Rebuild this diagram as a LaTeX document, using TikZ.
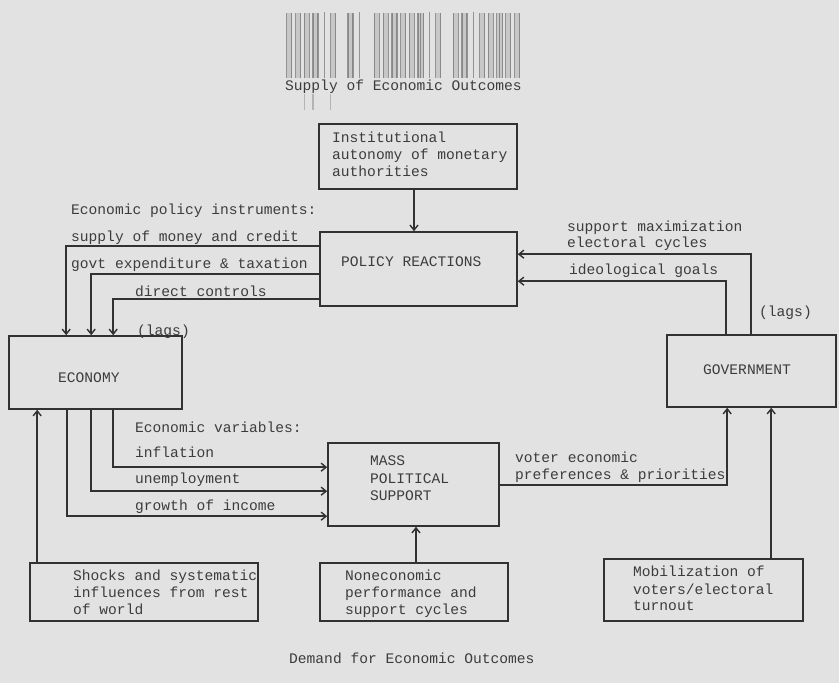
\documentclass[tikz,border=0pt]{standalone}
\usepackage{fontspec}
\setmonofont{Liberation Mono}
\usetikzlibrary{arrows.meta,calc}
\definecolor{bgc}{RGB}{226,226,226}
\definecolor{ink}{RGB}{50,50,50}
\definecolor{txt}{RGB}{60,60,60}
\definecolor{smear}{RGB}{95,95,95}
\begin{document}
\begin{tikzpicture}[x=1pt,y=-1pt,
  box/.style={draw=ink,line width=1.6pt,inner sep=0pt},
  lbl/.style={anchor=base west,inner sep=0pt,font=\ttfamily\fontsize{14.6}{17}\selectfont,text=txt},
  arr/.style={draw=ink,line width=1.5pt,-{Straight Barb[length=5pt,width=8pt,line width=1.4pt]}},
  streak/.style={draw=smear,line width=1.3pt,opacity=0.6},
  blob/.style={fill=smear,opacity=0.2}]
\fill[bgc] (0,0) rectangle (839,683);
\useasboundingbox (0,0) rectangle (839,683);

% vertical smear above the title (scan artefact)
\foreach \i in {0,1,2,3,5,7,10,11,12,13,14,17,19,20,22,23,25,26}{
  \pgfmathsetmacro\xo{285+8.76*\i}
  \fill[blob] (\xo+1.8,13) rectangle (\xo+6.8,78);
  \draw[streak] (\xo+1.8,13) -- (\xo+1.8,78);
  \draw[streak] (\xo+6.8,13) -- (\xo+6.8,78);
}
\foreach \i in {4,8,16,21}{
  \pgfmathsetmacro\xo{285+8.76*\i}
  \draw[streak] (\xo+4.4,12) -- (\xo+4.4,78);
}
\foreach \i in {15,24}{
  \pgfmathsetmacro\xo{285+8.76*\i}
  \fill[blob] (\xo+1.5,13) rectangle (\xo+7.3,78);
  \draw[streak] (\xo+1.5,13) -- (\xo+1.5,78);
  \draw[streak] (\xo+4.4,13) -- (\xo+4.4,78);
  \draw[streak] (\xo+7.3,13) -- (\xo+7.3,78);
}
\foreach \i in {2,3,5}{
  \pgfmathsetmacro\xo{285+8.76*\i}
  \draw[streak,opacity=0.35] (\xo+1.8,94) -- (\xo+1.8,110);
}
\node[lbl] (title) at (285,90) {Supply of Economic Outcomes};

% boxes
\node[box,minimum width=198pt,minimum height=65pt] (inst) at (418,156.5) {};
\node[box,minimum width=197pt,minimum height=74pt] (pr) at (418.5,269) {};
\node[box,minimum width=173pt,minimum height=73pt] (econ) at (95.5,372.5) {};
\node[box,minimum width=169pt,minimum height=72pt] (gov) at (751.5,371) {};
\node[box,minimum width=171pt,minimum height=83pt] (mps) at (413.5,484.5) {};
\node[box,minimum width=228pt,minimum height=58pt] (shocks) at (144,592) {};
\node[box,minimum width=188pt,minimum height=58pt] (noneco) at (414,592) {};
\node[box,minimum width=199pt,minimum height=62pt] (mobil) at (703.5,590) {};

% box texts
\node[lbl] (inst1) at (332,142) {Institutional};
\node[lbl] (inst2) at (332,159) {autonomy of monetary};
\node[lbl] (inst3) at (332,176) {authorities};
\node[lbl] (prl) at (341,266) {POLICY REACTIONS};
\node[lbl] (econl) at (58,382) {ECONOMY};
\node[lbl] (govl) at (703,374) {GOVERNMENT};
\node[lbl] (mps1) at (370,465) {MASS};
\node[lbl] (mps2) at (370,483) {POLITICAL};
\node[lbl] (mps3) at (370,500) {SUPPORT};
\node[lbl] (sh1) at (73,580) {Shocks and systematic};
\node[lbl] (sh2) at (73,597) {influences from rest};
\node[lbl] (sh3) at (73,614) {of world};
\node[lbl] (ne1) at (345,580) {Noneconomic};
\node[lbl] (ne2) at (345,597) {performance and};
\node[lbl] (ne3) at (345,614) {support cycles};
\node[lbl] (mo1) at (633,576) {Mobilization of};
\node[lbl] (mo2) at (633,594) {voters/electoral};
\node[lbl] (mo3) at (633,610) {turnout};

% connector labels
\node[lbl] (epi) at (71,214) {Economic policy instruments:};
\node[lbl] (smc) at (71,241) {supply of money and credit};
\node[lbl] (get) at (71,268) {govt expenditure \& taxation};
\node[lbl] (dc) at (135,296) {direct controls};
\node[lbl] (lagsl) at (137,335) {(lags)};
\node[lbl] (smx) at (567,231) {support maximization};
\node[lbl] (ecy) at (567,247) {electoral cycles};
\node[lbl] (ideo) at (569,274) {ideological goals};
\node[lbl] (lagsr) at (759,316) {(lags)};
\node[lbl] (ev) at (135,432) {Economic variables:};
\node[lbl] (infl) at (135,457) {inflation};
\node[lbl] (unem) at (135,483) {unemployment};
\node[lbl] (grow) at (135,510) {growth of income};
\node[lbl] (vote1) at (515,462) {voter economic};
\node[lbl] (vote2) at (515,479) {preferences \& priorities};
\node[lbl] (demand) at (289,663) {Demand for Economic Outcomes};

% connectors
\draw[arr] ($(inst.south)+(-4,0)$) -- ($(pr.north)+(-4.5,0)$);
\draw[arr] ($(pr.north west)+(0,15)$) -| ($(econ.north west)+(58,0)$);
\draw[arr] ($(pr.north west)+(0,43)$) -| ($(econ.north west)+(83,0)$);
\draw[arr] ($(pr.north west)+(0,68)$) -| ($(econ.north west)+(105,0)$);
\draw[arr] ($(gov.north west)+(85,0)$) |- ($(pr.north east)+(0,23)$);
\draw[arr] ($(gov.north west)+(60,0)$) |- ($(pr.north east)+(0,50)$);
\draw[arr] ($(econ.south west)+(105,0)$) |- ($(mps.north west)+(0,25)$);
\draw[arr] ($(econ.south west)+(83,0)$) |- ($(mps.north west)+(0,49)$);
\draw[arr] ($(econ.south west)+(59,0)$) |- ($(mps.north west)+(0,74)$);
\draw[arr] ($(shocks.north west)+(8,0)$) -- ($(econ.south west)+(29,0)$);
\draw[arr] ($(noneco.north)+(2,0)$) -- ($(mps.south)+(2.5,0)$);
\draw[arr] ($(mps.north east)+(0,43)$) -| ($(gov.south west)+(61,0)$);
\draw[arr] ($(mobil.north west)+(168,0)$) -- ($(gov.south west)+(105,0)$);
\end{tikzpicture}
\end{document}
